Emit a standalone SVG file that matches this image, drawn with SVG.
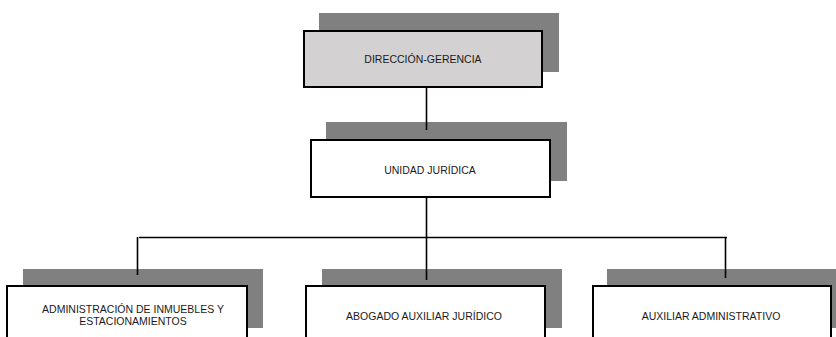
<svg xmlns="http://www.w3.org/2000/svg" width="836" height="337" viewBox="0 0 836 337">
  <style>
    .shadow { fill: #808080; }
    .box { fill: #ffffff; stroke: #000000; stroke-width: 2; }
    .box.top { fill: #d3d1d2; }
    .label { font-family: "Liberation Sans", Arial, sans-serif; font-size: 10.5px; fill: #1a1a1a; text-anchor: middle; }
    .conn { stroke: #000000; stroke-width: 1.6; fill: none; }
  </style>
  <rect width="836" height="337" fill="#ffffff"/>
  <g id="node-direccion">
    <rect class="shadow" x="319" y="13" width="240" height="59"/>
    <rect class="box top" x="304" y="31" width="238" height="56"/>
    <text class="label" x="423" y="63">DIRECCIÓN-GERENCIA</text>
  </g>
  <g id="node-unidad">
    <rect class="shadow" x="326" y="122" width="241" height="59"/>
    <rect class="box" x="311" y="140" width="239" height="57"/>
    <text class="label" x="430" y="174">UNIDAD JURÍDICA</text>
  </g>
  <g id="node-administracion">
    <rect class="shadow" x="23" y="269" width="240" height="59"/>
    <rect class="box" x="7" y="286" width="240" height="60"/>
    <text class="label" x="133" y="313">ADMINISTRACIÓN DE INMUEBLES Y</text>
    <text class="label" x="133" y="325">ESTACIONAMIENTOS</text>
  </g>
  <g id="node-abogado">
    <rect class="shadow" x="322" y="269" width="240" height="59"/>
    <rect class="box" x="306" y="286" width="239" height="60"/>
    <text class="label" x="424" y="320">ABOGADO AUXILIAR JURÍDICO</text>
  </g>
  <g id="node-auxiliar">
    <rect class="shadow" x="607" y="269" width="240" height="59"/>
    <rect class="box" x="593" y="286" width="238" height="60"/>
    <text class="label" x="711" y="320">AUXILIAR ADMINISTRATIVO</text>
  </g>
  <g id="connectors">
    <line class="conn" x1="426.5" y1="88" x2="426.5" y2="130"/>
    <line class="conn" x1="426.5" y1="198" x2="426.5" y2="280"/>
    <line class="conn" x1="139" y1="237.5" x2="727" y2="237.5"/>
    <line class="conn" x1="137.5" y1="237" x2="137.5" y2="275"/>
    <line class="conn" x1="725.5" y1="237" x2="725.5" y2="278"/>
  </g>
</svg>
